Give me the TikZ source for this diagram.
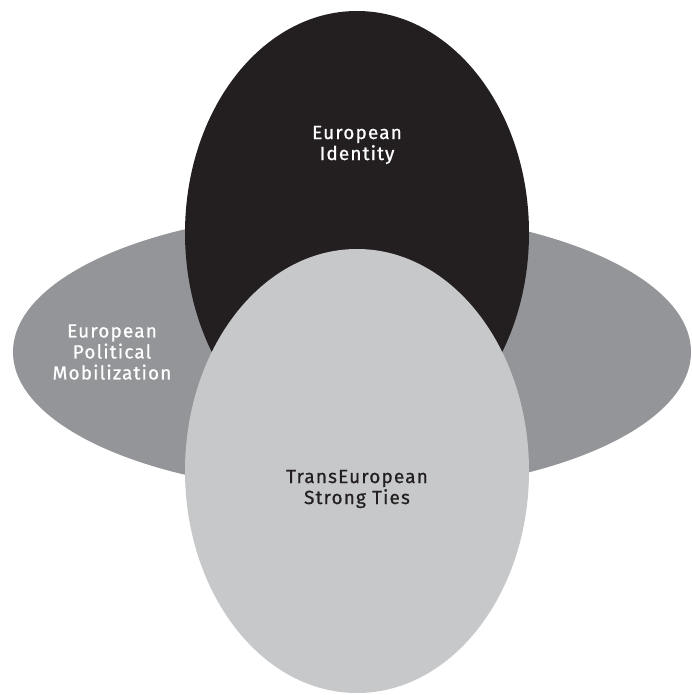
\documentclass[tikz,border=0pt]{standalone}
\usepackage{fontspec}
\setsansfont[LetterSpace=6, FakeBold=0.8]{Fira Sans}
\usetikzlibrary{shapes.geometric}
\definecolor{darkink}{HTML}{231F20}
\definecolor{midgray}{HTML}{939598}
\definecolor{lightgray}{HTML}{C7C8CA}

\begin{document}
\begin{tikzpicture}[x=1pt, y=-1pt,
    blob/.style = {ellipse, inner sep=0pt, draw=none},
    lbl/.style = {align=center, font=\sffamily\fontsize{19}{21}\selectfont}]
    \useasboundingbox (0,0) rectangle (691,695);
    \node[blob, fill=midgray, minimum width=678pt, minimum height=282pt] (mobil) at (352,352) {};
    \node[blob, fill=darkink, minimum width=344pt, minimum height=444pt] (ident) at (357,233) {};
    \node[blob, fill=lightgray, minimum width=344pt, minimum height=444pt] (ties) at (357,471) {};
    \node[lbl, text=white] (identtext) at (357,145) {European\\Identity};
    \node[lbl, text=white] (mobiltext) at (112,352) {European\\Political\\Mobilization};
    \node[lbl, text=darkink] (tiestext) at (357,489) {TransEuropean\\Strong Ties};
\end{tikzpicture}
\end{document}
